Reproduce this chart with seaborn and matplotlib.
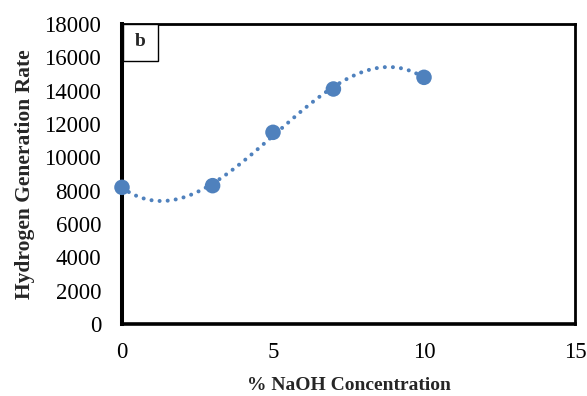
import numpy as np
import pandas as pd
import matplotlib
matplotlib.use("Agg")
import matplotlib.pyplot as plt
from matplotlib.patches import Rectangle
import seaborn as sns

naoh = [0, 3, 5, 7, 10]
rate = [8200, 8300, 11500, 14100, 14800]
x_ticks = [0, 5, 10, 15]
y_ticks = list(range(0, 18001, 2000))

df = pd.DataFrame({"naoh": naoh, "rate": rate})

sns.set_theme(style="white")
plt.rcParams['font.family'] = ['Liberation Serif', 'DejaVu Serif']

fig = plt.figure(figsize=(5.87, 3.96), dpi=100)
ax = fig.add_axes([122 / 587, 1 - 324 / 396, (575 - 122) / 587, (324 - 24) / 396])

color = "#4F81BD"
# Polynomial (order 3) trendline fitted to the data points
coef = np.polyfit(df["naoh"], df["rate"], 3)
xs = np.linspace(0, 10, 300)
trend = pd.DataFrame({"naoh": xs, "rate": np.polyval(coef, xs)})
sns.lineplot(data=trend, x="naoh", y="rate", ax=ax, color=color,
             linewidth=2.9, linestyle=(0, (0.01, 2.0)),
             solid_capstyle="round", dash_capstyle="round")

sns.scatterplot(data=df, x="naoh", y="rate", ax=ax, color=color, s=125,
                edgecolor="none", zorder=5, clip_on=False)

ax.set_xlim(0, 15)
ax.set_ylim(0, 18000)
ax.set_xticks(x_ticks)
ax.set_yticks(y_ticks)
ax.tick_params(axis="both", labelsize=16.5, length=0, colors="black")
ax.tick_params(axis="y", pad=15)
ax.tick_params(axis="x", pad=13)
for sp in ax.spines.values():
    sp.set_visible(True)
    sp.set_color("black")
    sp.set_linewidth(2.0)
ax.spines["left"].set_linewidth(2.9)
ax.spines["bottom"].set_linewidth(2.6)

ax.set_xlabel("% NaOH Concentration", fontsize=14, fontweight="bold", labelpad=10)
ax.set_ylabel("Hydrogen Generation Rate", fontsize=15.5, fontweight="bold", labelpad=7)

ax.add_patch(Rectangle((0.002, 0.877), 0.078, 0.123, transform=ax.transAxes,
                       facecolor="white", edgecolor="black", linewidth=1.0, zorder=6,
                       clip_on=False))
ax.text(0.041, 0.94, "b", transform=ax.transAxes, fontsize=14, fontweight="bold",
        ha="center", va="center", zorder=7)

fig.savefig("out.png", dpi=100)
